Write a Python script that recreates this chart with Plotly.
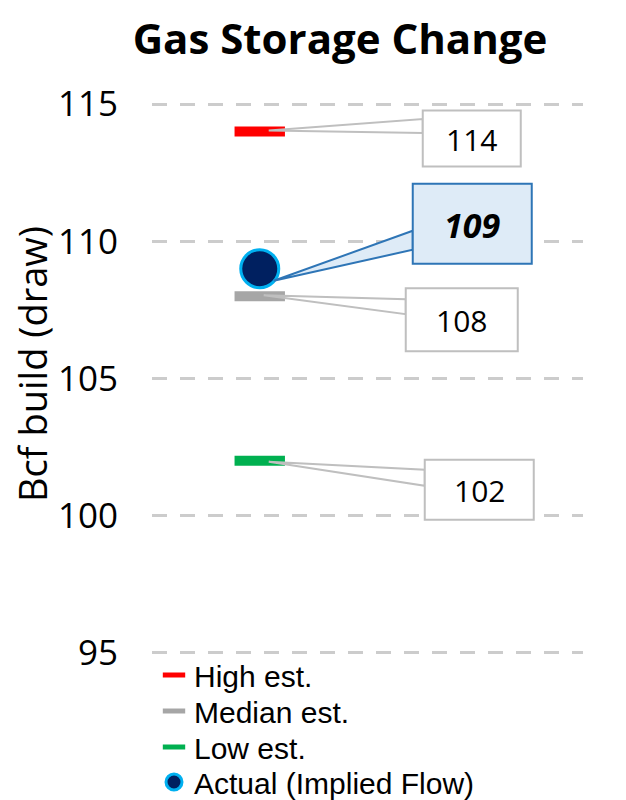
import plotly.graph_objects as go

# ---------------- data ----------------
series_names = ["High est.", "Median est.", "Low est.", "Actual (Implied Flow)"]
series_values = [114, 108, 102, 109]
series_colors = ["#FF0000", "#A6A6A6", "#00B050", "#002060"]
y_ticks = [95, 100, 105, 110, 115]
chart_title = "Gas Storage Change"
y_title = "Bcf build (draw)"

# ---------------- layout geometry ----------------
W, H = 626, 800
L, R = 152, 583
Y115, Y95 = 104, 653          # pixel rows of the end ticks
YMIN, YMAX = 95, 115
PADV = 0.15                   # range padding so end gridlines are drawn
PXU = (Y95 - Y115) / (YMAX - YMIN)
T = Y115 - PADV * PXU
B = Y95 + PADV * PXU
RMIN, RMAX = YMIN - PADV, YMAX + PADV
XMIN, XMAX = 0, 4
XPOS = 1  # category position

FONT = "Open Sans"
LEGEND_FONT = "Liberation Sans"
LEGEND_ROWS = [675, 711, 747, 782]   # pixel rows of legend entries
LEGEND_LEFT = 154
YTITLE_X, YTITLE_Y = 32, 364          # pixel centre of the y-axis title


def py(v):  # data -> pixel y
    return T + (RMAX - v) * (B - T) / (RMAX - RMIN)


def dy(p):  # pixel y -> data
    return RMAX - (p - T) * (RMAX - RMIN) / (B - T)


def dx(p):  # pixel x -> data
    return XMIN + (p - L) * (XMAX - XMIN) / (R - L)


def px(v):
    return L + (v - XMIN) * (R - L) / (XMAX - XMIN)


legend_ids = ["legend", "legend2", "legend3", "legend4"]

fig = go.Figure()

# estimate dashes
for i, (name, val, col) in enumerate(zip(series_names[:3], series_values[:3], series_colors[:3])):
    fig.add_trace(go.Scatter(
        x=[XPOS], y=[val], mode="markers", name=name, legend=legend_ids[i],
        marker=dict(symbol="line-ew", size=36, color=col,
                    line=dict(color=col, width=10)),
        hoverinfo="skip"))

# actual circle
fig.add_trace(go.Scatter(
    x=[XPOS], y=[series_values[3]], mode="markers", name=series_names[3],
    legend=legend_ids[3],
    marker=dict(symbol="circle", size=38, color=series_colors[3],
                line=dict(color="#00B0F0", width=3)),
    hoverinfo="skip"))

# callout styles: (tip dx,dy), box (x0,x1,y0,y1), attach (ya, yb) -- pixel offsets from marker
callouts = [
    (0, (9, -1), (163, 261, -21, 35), (-12.5, 1.5), "white", "#BFBFBF", 2, False),
    (1, (4, -1), (146, 258, -8, 55), (3, 18), "white", "#BFBFBF", 2, False),
    (2, (9, 1), (165, 274, -1, 59), (9, 25), "white", "#BFBFBF", 2, False),
    (3, (14, 12), (153, 272, -85, -5), (-38, -19), "#DEEBF7", "#2E75B6", 2, True),
]

shapes = []
annotations = []
cx = px(XPOS)
for idx, tip, box, att, fill, border, lw, bold in callouts:
    v = series_values[idx]
    cy = py(v)
    tx, ty = cx + tip[0], cy + tip[1]
    bx0, bx1 = cx + box[0], cx + box[1]
    by0, by1 = cy + box[2], cy + box[3]
    ya, yb = cy + att[0], cy + att[1]
    path = (f"M {dx(tx)},{dy(ty)} L {dx(bx0)},{dy(ya)} "
            f"L {dx(bx0)},{dy(yb)} Z")
    shapes.append(dict(type="path", xref="x", yref="y", path=path,
                       fillcolor=fill, line=dict(color=border, width=lw),
                       layer="above"))
    shapes.append(dict(type="rect", xref="x", yref="y",
                       x0=dx(bx0), x1=dx(bx1), y0=dy(by0), y1=dy(by1),
                       fillcolor=fill, line=dict(color=border, width=lw),
                       layer="above"))
    txt = f"<b><i>{v}</i></b>" if bold else f"{v}"
    annotations.append(dict(
        x=dx((bx0 + bx1) / 2), y=dy((by0 + by1) / 2 + 1), xref="x", yref="y",
        text=txt, showarrow=False,
        font=dict(family=FONT, size=34 if bold else 30, color="black"),
        xanchor="center", yanchor="middle"))

# y-axis title
annotations.append(dict(
    x=(YTITLE_X - L) / (R - L), y=(B - YTITLE_Y) / (B - T),
    xref="paper", yref="paper", text=y_title, textangle=-90,
    showarrow=False, xanchor="center", yanchor="middle",
    font=dict(family=FONT, size=38, color="black")))

legend_layouts = {}
for lid, row in zip(legend_ids, LEGEND_ROWS):
    legend_layouts[lid] = dict(
        xref="container", yref="container",
        x=LEGEND_LEFT / W, y=1 - row / H, xanchor="left", yanchor="middle",
        font=dict(family=LEGEND_FONT, size=30, color="black"),
        bgcolor="rgba(0,0,0,0)", itemsizing="trace")

fig.update_layout(
    width=W, height=H,
    margin=dict(l=L, r=W - R, t=T, b=H - B, pad=0, autoexpand=False),
    paper_bgcolor="white", plot_bgcolor="white",
    title=dict(text=f"<b>{chart_title}</b>", x=340 / W, xanchor="center",
               y=1 - 39 / H, yanchor="middle",
               font=dict(family=FONT, size=42, color="black")),
    xaxis=dict(range=[XMIN, XMAX], showgrid=False, zeroline=False,
               showticklabels=False, showline=False, ticks="", fixedrange=True),
    yaxis=dict(range=[RMIN, RMAX], tickvals=y_ticks,
               ticktext=[str(t) for t in y_ticks],
               showgrid=True, gridcolor="#CCCCCC", gridwidth=3,
               griddash="15px,13px", zeroline=False, showline=False,
               ticks="", ticklabelstandoff=33,
               tickfont=dict(family=FONT, size=35, color="black")),
    showlegend=True,
    shapes=shapes,
    annotations=annotations,
    **legend_layouts,
)

fig.write_html("out.html",
               config={"displayModeBar": False},
               post_script="document.body.style.margin='0px';"
                           "document.body.style.padding='0px';")
